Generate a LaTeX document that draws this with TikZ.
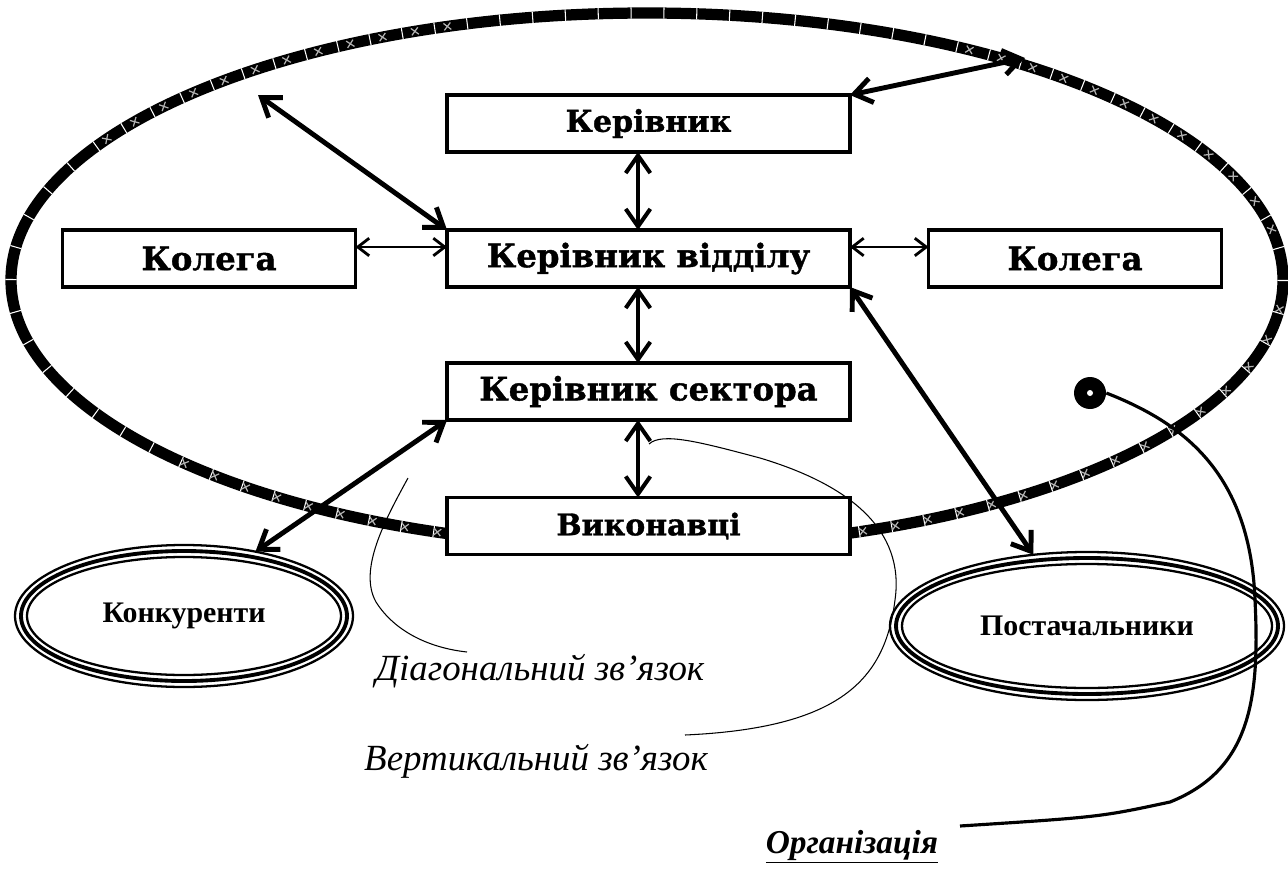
\documentclass[tikz,border=0pt]{standalone}
\usepackage{fontspec}
\setmainfont{Liberation Serif}
\newfontfamily\slabfont{DejaVu Serif}[BoldFeatures={FakeBold=1.2}]
\usetikzlibrary{arrows.meta,shapes.geometric,decorations.markings}

\begin{document}
\begin{tikzpicture}[x=0.02cm,y=-0.02cm,
  box/.style={draw, line width=2pt, fill=white, inner sep=0pt, outer sep=0pt,
    minimum height=1.14cm, font=\slabfont\bfseries\fontsize{18.4}{22}\selectfont},
  wide/.style={box, minimum width=8.06cm},
  side/.style={box, minimum width=5.86cm},
  ring/.style={shape=ellipse, inner sep=0pt, outer sep=0pt,
    font=\bfseries\fontsize{17}{20}\selectfont},
  tip/.tip={Straight Barb[length=10pt,width=14pt]},
  link/.style={line width=2.3pt, tip-tip},
  thinlink/.style={line width=1.6pt, {Straight Barb[length=6.5pt,width=10pt]}-{Straight Barb[length=6.5pt,width=10pt]}},
  diaglink/.style={line width=2.8pt, tip-tip},
  callout/.style={line width=0.6pt},
  lead/.style={line width=1.8pt},
  caption/.style={font=\itshape\fontsize{21}{25}\selectfont, anchor=base},
  cross/.style={gray!60, line width=0.7pt},
]
\useasboundingbox (0,0) rectangle (1288,872);

% organisation boundary: heavy band with light ticks and crosses
\draw[line width=6.4pt] (647,280) ellipse [x radius=636, y radius=267];
\draw[white, line width=6.4pt, dash pattern=on 0.6pt off 18.1pt]
  (647,280) ellipse [x radius=636, y radius=267];
\path[postaction={decorate, decoration={markings,
    mark=between positions 0.01 and 0.42 step 18.7pt with {
      \draw[cross] (-2pt,-2pt)--(2pt,2pt) (-2pt,2pt)--(2pt,-2pt);},
    mark=between positions 0.56 and 0.69 step 18.7pt with {
      \draw[cross] (-2pt,-2pt)--(2pt,2pt) (-2pt,2pt)--(2pt,-2pt);},
    mark=between positions 0.86 and 0.99 step 18.7pt with {
      \draw[cross] (-2pt,-2pt)--(2pt,2pt) (-2pt,2pt)--(2pt,-2pt);}}}]
  (647,280) ellipse [x radius=636, y radius=267];

% hierarchy boxes
\node[wide] (boss) at (648.5,123.5) {\fontsize{17.1}{20}\selectfont Керівник};
\node[wide] (dept) at (648.5,258.5) {Керівник відділу};
\node[wide] (sect) at (648.5,391.5) {Керівник сектора};
\node[wide] (exec) at (648.5,526) {\fontsize{17}{20}\selectfont Виконавці};
\node[side] (colL) at (209,258.5) {Колега};
\node[side] (colR) at (1075,258.5) {Колега};

% outside parties
\node[ring, minimum width=6.76cm, minimum height=2.84cm] (comp) at (184,616) {Конкуренти};
\node[ring, minimum width=7.88cm, minimum height=2.96cm] (supp) at (1087,626) {Постачальники};
\foreach \n/\rx/\ry in {comp/169/71, supp/197/74}{
  \draw[line width=1.3pt] (\n.center) ellipse [x radius=\rx, y radius=\ry];
  \draw[line width=2.2pt] (\n.center) ellipse [x radius=\rx-6, y radius=\ry-6];
  \draw[line width=1.3pt] (\n.center) ellipse [x radius=\rx-12, y radius=\ry-12];
}

% vertical links
\draw[link] ([xshift=-0.21cm]boss.south) -- ([xshift=-0.21cm]dept.north);
\draw[link] ([xshift=-0.21cm]dept.south) -- ([xshift=-0.21cm]sect.north);
\draw[link] ([xshift=-0.21cm]sect.south) -- ([xshift=-0.21cm]exec.north);

% horizontal links
\draw[thinlink] ([yshift=0.23cm]colL.east) -- ([yshift=0.23cm]dept.west);
\draw[thinlink] ([yshift=0.23cm]dept.east) -- ([yshift=0.23cm]colR.west);

% diagonal links
\coordinate (upleft) at (258,95);
\coordinate (upright) at (1025,58);
\draw[diaglink] (upleft) -- (dept.north west);
\draw[diaglink] (boss.north east) -- (upright);
\draw[diaglink] (dept.south east) -- (supp.127);
\draw[diaglink] (sect.south west) -- (comp.42);

% captions with their leader curves
\node[caption] (diag) at (540,680) {Діагональний зв’язок};
\node[caption] (vert) at (536,770) {Вертикальний зв’язок};
\coordinate (diagstart) at (408,478);
\coordinate (diagend) at (467,652);
\draw[callout] (diagstart) .. controls (385,520) and (358,570) .. (376,602)
  .. controls (395,632) and (430,648) .. (diagend);
\coordinate (vertstart) at (649,444);
\coordinate (vertend) at (685,735);
\draw[callout] (vertstart) .. controls (662,432) and (700,442) .. (760,458)
  .. controls (850,485) and (905,530) .. (895,600)
  .. controls (885,680) and (840,728) .. (vertend);

% organisation marker and its leader
\node[circle, fill=black, minimum size=0.64cm, inner sep=0pt] (dot) at (1090,393) {};
\fill[white] (dot.center) circle (0.06cm);
\node[font=\bfseries\itshape\fontsize{19}{23}\selectfont, anchor=base] (org) at (852,853) {\underline{Організація}};
\coordinate (leadend) at (960,826);
\draw[lead] (dot.east) .. controls (1180,422) and (1250,470) .. (1255,600)
  .. controls (1260,700) and (1250,770) .. (1170,802)
  .. controls (1100,817) .. (leadend);
\end{tikzpicture}
\end{document}
